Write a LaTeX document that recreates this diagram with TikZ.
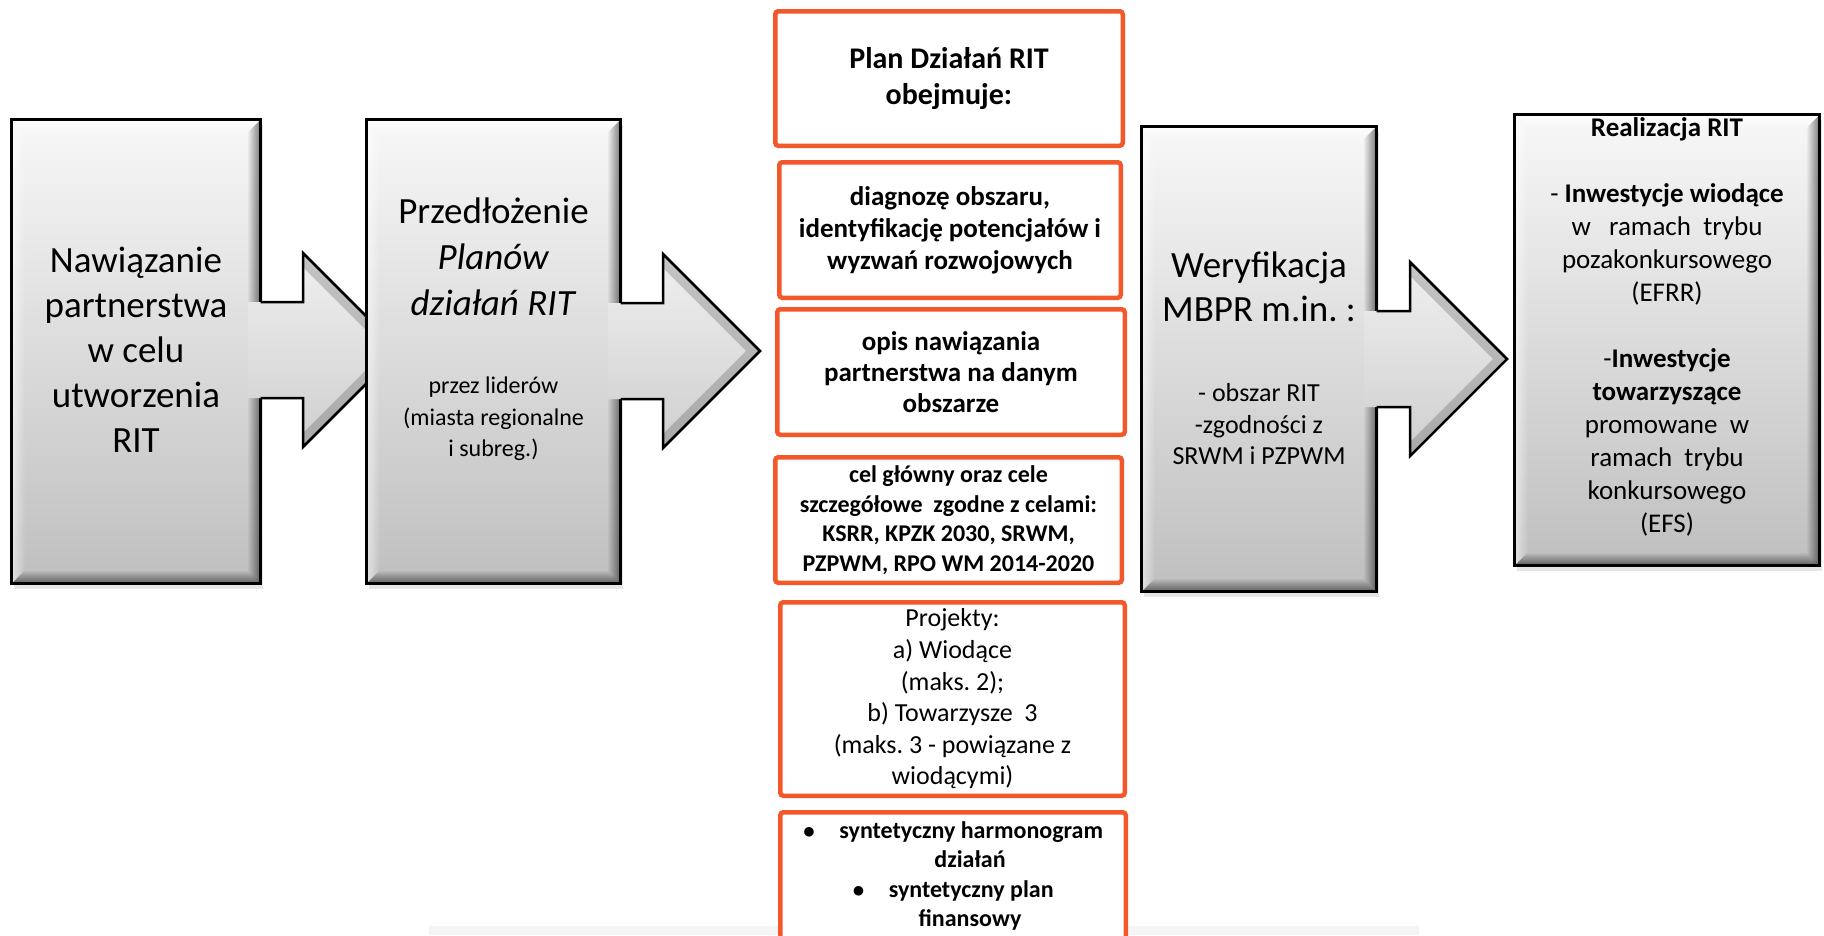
\documentclass[tikz,border=0pt]{standalone}
\usepackage{fontspec}
\setmainfont{Carlito}
\usetikzlibrary{calc,shadows,fadings}

\definecolor{ritorange}{RGB}{243,88,42}

\tikzfading[name=fadeRight, left color=transparent!100, right color=transparent!0]
\tikzfading[name=fadeDown, top color=transparent!100, bottom color=transparent!0]
\tikzfading[name=fadeUp, top color=transparent!0, bottom color=transparent!100]
\tikzfading[name=fadeLeft, left color=transparent!0, right color=transparent!100]

\newcommand{\fs}[2]{\fontsize{#1}{#2}\selectfont}

% dark edge right/bottom, light edge top/left
\newcommand{\bevel}[1]{%
  \fill[black, opacity=.45, path fading=fadeRight] ([shift={(-3pt,-3pt)}]#1.north east) -- ([shift={(-3pt,3pt)}]#1.south east) -- ([shift={(-15pt,15pt)}]#1.south east) -- ([shift={(-15pt,-15pt)}]#1.north east) -- cycle;
  \fill[black, opacity=.45, path fading=fadeDown] ([shift={(3pt,3pt)}]#1.south west) -- ([shift={(-3pt,3pt)}]#1.south east) -- ([shift={(-15pt,15pt)}]#1.south east) -- ([shift={(15pt,15pt)}]#1.south west) -- cycle;
  \fill[white, opacity=.7, path fading=fadeUp] ([shift={(3pt,-3pt)}]#1.north west) -- ([shift={(-3pt,-3pt)}]#1.north east) -- ([shift={(-15pt,-15pt)}]#1.north east) -- ([shift={(15pt,-15pt)}]#1.north west) -- cycle;
  \fill[white, opacity=.5, path fading=fadeLeft] ([shift={(3pt,-3pt)}]#1.north west) -- ([shift={(3pt,3pt)}]#1.south west) -- ([shift={(15pt,15pt)}]#1.south west) -- ([shift={(15pt,-15pt)}]#1.north west) -- cycle;
}

% block arrow from a box to a tip coordinate
\newcommand{\stagearrow}[2]{%
  \shade[top color=black!6, bottom color=black!19] let \p1=(#1.east), \p2=(#2) in
    (\x1-14pt,\y2+48pt) -- (\x2-97pt,\y2+48pt) -- (\x2-97pt,\y2+97pt) -- (\x2,\y2)
    -- (\x2-97pt,\y2-97pt) -- (\x2-97pt,\y2-48pt) -- (\x1-14pt,\y2-48pt) -- cycle;
  \fill[black, opacity=.18] let \p2=(#2) in
    (\x2,\y2) -- (\x2-97pt,\y2+97pt) -- (\x2-97pt,\y2+83pt) -- (\x2-14pt,\y2)
    -- (\x2-97pt,\y2-83pt) -- (\x2-97pt,\y2-97pt) -- cycle;
  \draw[line width=2.5pt] let \p1=(#1.east), \p2=(#2) in
    (\x1-1.5pt,\y2+48pt) -- (\x2-97pt,\y2+48pt) -- (\x2-97pt,\y2+97pt) -- (\x2,\y2)
    -- (\x2-97pt,\y2-97pt) -- (\x2-97pt,\y2-48pt) -- (\x1-1.5pt,\y2-48pt);
}

\tikzset{
  stagebox/.style 2 args={draw=black, line width=3pt, top color=black!3, bottom color=black!25,
    drop shadow={shadow xshift=2pt, shadow yshift=-5pt, opacity=.2},
    inner sep=0pt, minimum width=#1, minimum height=#2},
  planbox/.style 2 args={draw=ritorange, line width=4.5pt, rounded corners=3pt, fill=white,
    align=center, inner sep=0pt, minimum width=#1, minimum height=#2},
  boxtext/.style={align=center, inner sep=0pt, text=black}
}

\begin{document}
\frenchspacing
\begin{tikzpicture}[x=1pt, y=-1pt]
\useasboundingbox (0,0) rectangle (1824,935);
\clip (0,0) rectangle (1824,935);
\fill[black!4] (429,926) rectangle (1419,935);

% stage 1
\node[stagebox={249pt}{464pt}] (b1) at (136,351.5) {};
\bevel{b1}
\node[boxtext, font=\fs{37}{45}] (b1t) at (136,353) {\strut Nawiązanie\\ partnerstwa\\ w celu\\ utworzenia\\ RIT\strut};
\coordinate (tip1) at (400,350);
\stagearrow{b1}{tip1}

% stage 2
\node[stagebox={254pt}{464pt}] (b2) at (493.5,351.5) {};
\bevel{b2}
\node[boxtext, font=\fs{37}{46}] (b2t) at (493.5,260) {\strut Przedłożenie\\ \textit{Planów}\\ \textit{działań RIT}\strut};
\node[boxtext, font=\fs{24}{31.5}] (b2s) at (493.5,419) {\strut przez liderów\\ (miasta regionalne\\ i subreg.)\strut};
\coordinate (tip2) at (760,351);
\stagearrow{b2}{tip2}

% contents of the plan
\node[planbox={347.5pt}{134.5pt}, font=\fs{30}{36}\bfseries] (pA) at (949,78.5) {Plan Działań RIT\\ obejmuje:};
\node[planbox={341.5pt}{135.5pt}, font=\fs{27}{32}\bfseries] (pB) at (950,230) {diagnozę obszaru,\\ identyfikację potencjałów i\\ wyzwań rozwojowych};
\node[planbox={347.5pt}{125.5pt}, font=\fs{27}{31}\bfseries] (pC) at (951,372) {opis nawiązania\\ partnerstwa na danym\\ obszarze};
\node[planbox={346.5pt}{125.5pt}, font=\fs{24}{29.5}\bfseries] (pD) at (948.5,520) {cel główny oraz cele\\ szczegółowe~ zgodne z celami:\\ KSRR, KPZK 2030, SRWM,\\ PZPWM, RPO WM 2014-2020};
\node[planbox={344.5pt}{193.5pt}, font=\fs{26}{31.6}] (pE) at (952.5,699) {Projekty:\\ a) Wiodące\\ (maks. 2);\\ b) Towarzysze~ 3\\ (maks. 3 - powiązane z\\ wiodącymi)};
\node[planbox={345.5pt}{127.5pt}, font=\fs{24}{29.5}\bfseries] (pF) at (953,876) {$\bullet$\hspace{24pt}syntetyczny harmonogram\\ \hspace*{34pt}działań\\ $\bullet$\hspace{24pt}syntetyczny plan\\ \hspace*{34pt}finansowy};

% stage 3
\node[stagebox={235pt}{465pt}] (b3) at (1259,359) {};
\bevel{b3}
\node[boxtext, font=\fs{37}{44}] (b3t) at (1259,291) {\strut Weryfikacja\\ MBPR m.in. :\strut};
\node[boxtext, font=\fs{26}{31.5}] (b3s) at (1259,427) {\strut - obszar RIT\\ -zgodności z\\ SRWM i PZPWM\strut};
\coordinate (tip3) at (1507,359);
\stagearrow{b3}{tip3}

% stage 4
\node[stagebox={305pt}{451pt}] (b4) at (1667,340) {};
\bevel{b4}
\node[boxtext, font=\fs{27}{33}] (b4t) at (1667,327.5) {\strut\textbf{Realizacja RIT}\\ \strut\\ - \textbf{Inwestycje wiodące}\\ w~~ ramach~ trybu\\ pozakonkursowego\\ (EFRR)\\ \strut\\ -\textbf{Inwestycje}\\ \textbf{towarzyszące}\\ promowane~ w\\ ramach~ trybu\\ konkursowego\\ (EFS)\strut};
\end{tikzpicture}
\end{document}
